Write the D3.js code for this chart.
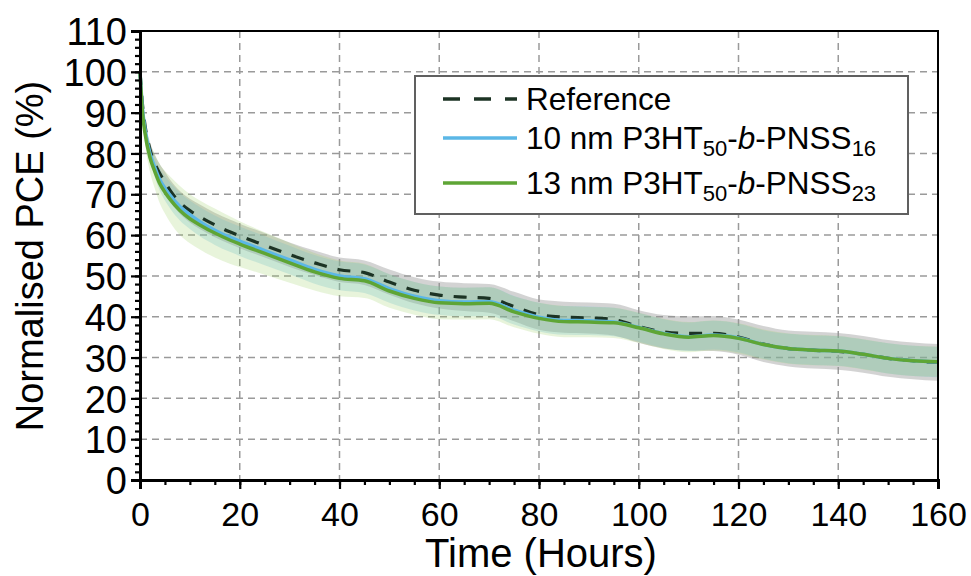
<!DOCTYPE html>
<html>
<head>
<meta charset="utf-8">
<script src="https://cdn.jsdelivr.net/npm/d3@7"></script>
<style>
  body { margin: 0; background: #fff; }
  svg text { font-family: "Liberation Sans", Arial, sans-serif; fill: #000; }
</style>
</head>
<body>
<div id="chart"></div>
<script>
// Time axis (hours) shared by all series
const hours = [0, 0.5, 1, 2, 3, 4, 5, 6, 8, 10, 12, 15, 18, 20, 25, 30, 35, 40, 45, 50, 55, 60,
  65, 70, 75, 80, 85, 90, 95, 100, 105, 110, 115, 120, 125, 130, 135, 140, 145, 150, 155, 160];

// Reference device: mean and spread
const refMean = [100, 92, 87, 81, 77.5, 75, 73, 71, 68, 66, 64.5, 62.5, 60.8, 59.8, 57.5, 55.2, 53.2, 51.5, 50.8, 48.5, 46.5, 45.3,
  44.8, 44.5, 42.5, 40.5, 39.9, 39.7, 39.3, 37.6, 36.3, 35.9, 35.9, 35, 33.3, 32.2, 31.8, 31.5, 30.8, 29.8, 29.2, 28.8];
const refStd = [0, 0.8, 1.2, 1.8, 2.1, 2.3, 2.5, 2.6, 2.8, 2.9, 3, 3, 3, 3, 3, 3, 3, 3, 3, 3.1, 3.2, 3.3,
  3.4, 3.5, 3.6, 3.7, 3.8, 3.8, 3.9, 4, 4.1, 4.2, 4.3, 4.3, 4.4, 4.4, 4.5, 4.5, 4.5, 4.5, 4.5, 4.5];

// 10 nm P3HT50-b-PNSS16
const blueMean = [100, 91, 86, 80, 76.5, 73.5, 71.5, 69.8, 67, 65, 63.3, 61.2, 59.5, 58.5, 56.2, 53.9, 51.6, 50, 49.3, 46.9, 45, 43.9,
  43.6, 43.7, 41.6, 39.9, 39.1, 39, 38.7, 37.4, 35.9, 35.1, 35.5, 34.8, 33.2, 32.2, 31.8, 31.6, 30.8, 29.8, 29.2, 28.9];
const blueStd = [0, 1, 1.5, 2, 2.4, 2.7, 3, 3.2, 3.4, 3.5, 3.6, 3.6, 3.6, 3.6, 3.6, 3.5, 3.5, 3.5, 3.5, 3.5, 3.5, 3.5,
  3.5, 3.5, 3.5, 3.5, 3.5, 3.5, 3.5, 3.5, 3.5, 3.5, 3.5, 3.5, 3.5, 3.6, 3.6, 3.6, 3.6, 3.7, 3.7, 3.7];

// 13 nm P3HT50-b-PNSS23
const greenMean = [100, 90, 85, 79, 75.5, 72.5, 70.5, 68.8, 66, 64, 62.5, 60.5, 58.8, 57.8, 55.5, 53.2, 51, 49.4, 48.8, 46.3, 44.5, 43.4,
  43.2, 43.3, 41.2, 39.6, 38.8, 38.7, 38.5, 37.3, 35.8, 35, 35.4, 34.7, 33.2, 32.2, 31.8, 31.6, 30.8, 29.8, 29.2, 29];
const greenStd = [0, 1.5, 2.5, 3.5, 4.2, 4.8, 5.2, 5.6, 6, 6, 6, 6, 5.8, 5.6, 5.2, 4.9, 4.6, 4.4, 4.2, 4.1, 4, 4,
  3.9, 3.9, 3.8, 3.8, 3.8, 3.7, 3.7, 3.7, 3.7, 3.7, 3.7, 3.7, 3.7, 3.7, 3.7, 3.7, 3.7, 3.7, 3.7, 3.7];

const xTicks = [0, 20, 40, 60, 80, 100, 120, 140, 160];
const yTicks = [0, 10, 20, 30, 40, 50, 60, 70, 80, 90, 100, 110];

function create_chart(width, height) {
    const margin = { top: 31, right: 33, bottom: 96, left: 140 };
    const innerWidth = width - margin.left - margin.right;
    const innerHeight = height - margin.top - margin.bottom;

    const svg = d3.select("#chart").append("svg")
        .attr("width", width)
        .attr("height", height);

    const g = svg.append("g")
        .attr("transform", "translate(" + margin.left + "," + margin.top + ")");

    const x = d3.scaleLinear().domain([0, 160]).range([0, innerWidth]);
    const y = d3.scaleLinear().domain([0, 110]).range([innerHeight, 0]);

    // dashed grid
    g.append("g").selectAll("line")
        .data(xTicks.slice(1, -1))
        .enter().append("line")
        .attr("x1", d => x(d)).attr("x2", d => x(d))
        .attr("y1", 0).attr("y2", innerHeight)
        .attr("stroke", "#9a9a9a").attr("stroke-width", 1.5)
        .attr("stroke-dasharray", "7,5");
    g.append("g").selectAll("line")
        .data(yTicks.slice(1, -1))
        .enter().append("line")
        .attr("x1", 0).attr("x2", innerWidth)
        .attr("y1", d => y(d)).attr("y2", d => y(d))
        .attr("stroke", "#9a9a9a").attr("stroke-width", 1.5)
        .attr("stroke-dasharray", "7,5");

    // build series rows
    const series = [
        { mean: refMean, std: refStd, band: "rgba(150,150,150,0.42)" },
        { mean: blueMean, std: blueStd, band: "rgba(100,185,225,0.26)" },
        { mean: greenMean, std: greenStd, band: "rgba(150,205,90,0.22)" }
    ];
    series.forEach(s => {
        s.rows = hours.map((h, i) => ({ t: h, m: s.mean[i], s: s.std[i] }));
    });

    const area = d3.area()
        .curve(d3.curveMonotoneX)
        .x(d => x(d.t))
        .y0(d => y(d.m - d.s))
        .y1(d => y(d.m + d.s));
    const line = d3.line()
        .curve(d3.curveMonotoneX)
        .x(d => x(d.t))
        .y(d => y(d.m));

    series.forEach(s => {
        g.append("path").datum(s.rows)
            .attr("d", area)
            .attr("fill", s.band);
    });

    g.append("path").datum(series[0].rows)
        .attr("d", line).attr("fill", "none")
        .attr("stroke", "#1c3324").attr("stroke-width", 3.2)
        .attr("stroke-dasharray", "13,11");
    g.append("path").datum(series[1].rows)
        .attr("d", line).attr("fill", "none")
        .attr("stroke", "#5bb7e6").attr("stroke-width", 3.5);
    g.append("path").datum(series[2].rows)
        .attr("d", line).attr("fill", "none")
        .attr("stroke", "#5ea535").attr("stroke-width", 3.5);

    // frame on top and right
    g.append("rect")
        .attr("width", innerWidth).attr("height", innerHeight)
        .attr("fill", "none").attr("stroke", "#000").attr("stroke-width", 2);

    // axes
    const xAxis = d3.axisBottom(x).tickValues(xTicks).tickSize(9).tickPadding(13);
    const xMinor = d3.axisBottom(x).tickValues(d3.range(0, 161, 5)).tickSize(5).tickFormat("");
    const yAxis = d3.axisLeft(y).tickValues(yTicks).tickSize(9).tickPadding(4);
    const yMinor = d3.axisLeft(y).tickValues(d3.range(0, 111, 2)).tickSize(5).tickFormat("");

    const gx = g.append("g").attr("transform", "translate(0," + innerHeight + ")");
    gx.append("g").call(xMinor);
    gx.append("g").call(xAxis).style("font-size", "34px");
    const gy = g.append("g");
    gy.append("g").call(yMinor);
    gy.append("g").call(yAxis).style("font-size", "38px");
    g.selectAll(".domain").attr("stroke-width", 3);
    g.selectAll(".tick line").attr("stroke-width", 2.2);
    g.selectAll(".tick text").attr("font-family", "Liberation Sans, Arial, sans-serif").attr("fill", "#000");
    gy.selectAll(".tick text").attr("dy", "0.36em");

    // axis titles
    g.append("text")
        .attr("text-anchor", "middle")
        .attr("x", innerWidth / 2 + 2)
        .attr("y", innerHeight + 87)
        .style("font-size", "40px")
        .text("Time (Hours)");
    g.append("text")
        .attr("text-anchor", "middle")
        .attr("transform", "rotate(-90)")
        .attr("x", -225)
        .attr("y", -97)
        .style("font-size", "38px")
        .text("Normalised PCE (%)");

    // legend
    const lg = svg.append("g").attr("transform", "translate(415,76)");
    lg.append("rect").attr("width", 493).attr("height", 138)
        .attr("fill", "#fff").attr("stroke", "#606060").attr("stroke-width", 2);
    const entries = [
        { color: "#1c3324", dash: "17,14", label: [["Reference", ""]], y: 23 },
        { color: "#5bb7e6", dash: null, label: [["10 nm P3HT", ""], ["50", "sub"], ["-", ""], ["b", "i"], ["-PNSS", ""], ["16", "sub"]], y: 62 },
        { color: "#5ea535", dash: null, label: [["13 nm P3HT", ""], ["50", "sub"], ["-", ""], ["b", "i"], ["-PNSS", ""], ["23", "sub"]], y: 107 }
    ];
    entries.forEach(e => {
        lg.append("line")
            .attr("x1", 28).attr("x2", 102)
            .attr("y1", e.y).attr("y2", e.y)
            .attr("stroke", e.color).attr("stroke-width", 3.5)
            .attr("stroke-dasharray", e.dash);
        const t = lg.append("text")
            .attr("x", 111).attr("y", e.y + 11)
            .style("font-size", "31.5px");
        e.label.forEach(p => {
            const sp = t.append("tspan").text(p[0]);
            if (p[1] === "sub") sp.attr("baseline-shift", "-30%").style("font-size", "22px");
            if (p[1] === "i") sp.style("font-style", "italic");
        });
    });
}

create_chart(971, 576);
</script>
</body>
</html>
